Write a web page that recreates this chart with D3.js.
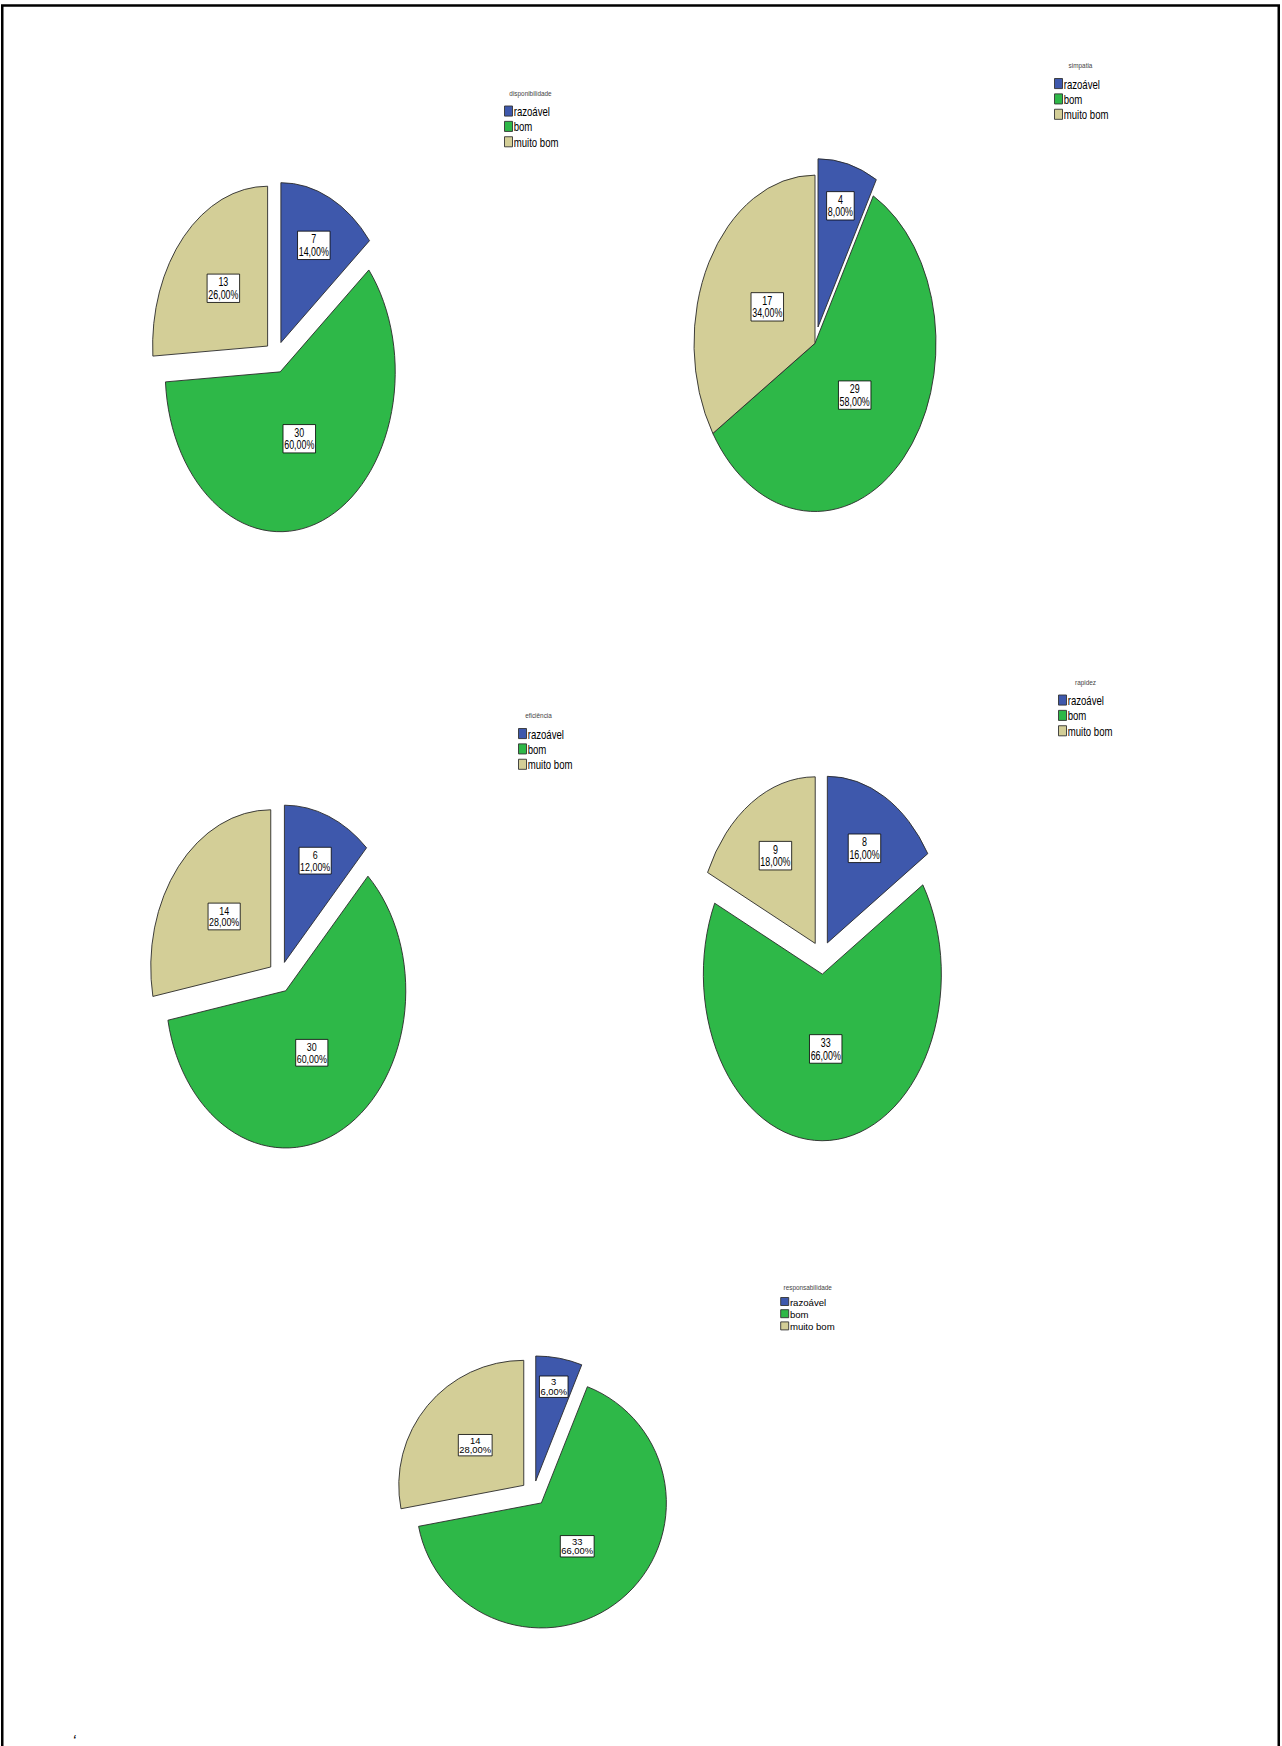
<!DOCTYPE html>
<html>
<head>
<meta charset="utf-8">
<script src="https://cdn.jsdelivr.net/npm/d3@7"></script>
<style>
  html, body { margin: 0; padding: 0; background: #ffffff; }
  svg { display: block; font-family: "Liberation Sans", Arial, sans-serif; }
</style>
</head>
<body>
<svg id="chart" width="1282" height="1746"></svg>
<script>
// Response categories shared by every question
const categories = ["razoável", "bom", "muito bom"];

// Counts per category for each evaluated attribute (n = 50)
const disponibilidade = [7, 30, 13];
const simpatia = [4, 29, 17];
const eficiencia = [6, 30, 14];
const rapidez = [8, 33, 9];
const responsabilidade = [3, 33, 14];

const titles = ["disponibilidade", "simpatia", "eficiência", "rapidez", "responsabilidade"];
const series = [disponibilidade, simpatia, eficiencia, rapidez, responsabilidade];

// Slice colours
const colors = ["#3e58ac", "#2eb848", "#d3ce97"];

// Placement of each pie panel: centre, radius, vertical stretch, exploded slices, legend spot
const layout = [
  { cx: 276,   cy: 357,    r: 115, k: 1.39, explode: [1, 1, 1], lx: 504.5,  ly: 106,    tdx: 26, lk: 1.26, fs: 8.9 },
  { cx: 815,   cy: 343.3,  r: 121, k: 1.39, explode: [1, 0, 0], lx: 1054.5, ly: 78.5,   tdx: 26, lk: 1.26, fs: 8.9 },
  { cx: 280,   cy: 977,    r: 120, k: 1.31, explode: [1, 1, 1], lx: 518.5,  ly: 728.5,  tdx: 20, lk: 1.26, fs: 8.9 },
  { cx: 821.6, cy: 957.5,  r: 119, k: 1.40, explode: [1, 1, 1], lx: 1058.5, ly: 695,    tdx: 27, lk: 1.26, fs: 8.9 },
  { cx: 533.4, cy: 1493.3, r: 125, k: 1.00, explode: [1, 1, 1], lx: 780.7,  ly: 1297.5, tdx: 27, lk: 1.0,  fs: 9.4 }
];

const locale = d3.formatLocale({ decimal: ",", thousands: ".", grouping: [3], currency: ["", ""] });
const fmt2 = locale.format(".2f");

const svg = d3.select("#chart");

// page frame
svg.append("rect")
  .attr("x", 2.25).attr("y", 5.5)
  .attr("width", 1276.5).attr("height", 1800)
  .attr("fill", "none").attr("stroke", "#000").attr("stroke-width", 2.5);

svg.append("text")
  .attr("x", 73).attr("y", 1743)
  .attr("font-size", 10).attr("font-weight", "bold")
  .attr("font-style", "italic")
  .text("‘");

const pie = d3.pie().sort(null).value(d => d);

series.forEach((values, pi) => {
  const L = layout[pi];
  const total = d3.sum(values);
  const arcs = pie(values);
  const arc = d3.arc().innerRadius(0).outerRadius(L.r);
  const explodeDist = 0.1 * L.r;

  const outer = svg.append("g").attr("transform", `translate(${L.cx},${L.cy})`);
  const g = outer.append("g").attr("transform", `scale(1,${L.k})`);

  const slices = g.selectAll("g.slice")
    .data(arcs)
    .join("g")
    .attr("class", "slice")
    .attr("transform", (d, i) => {
      const mid = (d.startAngle + d.endAngle) / 2;
      const e = L.explode[i] ? explodeDist : 0;
      return `translate(${Math.sin(mid) * e},${-Math.cos(mid) * e})`;
    });

  slices.append("path")
    .attr("d", arc)
    .attr("fill", (d, i) => colors[i])
    .attr("stroke", "#2a2a2a")
    .attr("stroke-width", 0.9)
    .attr("stroke-linejoin", "round")
    .attr("vector-effect", "non-scaling-stroke");

  // count / percentage boxes: small slices push their box further out
  slices.each(function (d) {
    const share = d.value / total;
    const mid = (d.startAngle + d.endAngle) / 2;
    const rf = Math.max(0.45, 0.84 - 1.2 * share) * L.r;
    const x = Math.sin(mid) * rf;
    const y = -Math.cos(mid) * rf;
    const lab = d3.select(this).append("g").attr("transform", `translate(${x},${y})`);
    const box = lab.append("rect")
      .attr("fill", "#fff")
      .attr("stroke", "#000")
      .attr("stroke-width", 0.8)
      .attr("vector-effect", "non-scaling-stroke");
    const lh = L.fs * 1.0;
    const t = lab.append("text")
      .attr("text-anchor", "middle")
      .attr("font-size", L.fs)
      .attr("fill", "#000");
    t.append("tspan").attr("x", 0).attr("y", -0.15 * lh).text(d.value);
    t.append("tspan").attr("x", 0).attr("y", 0.85 * lh).text(fmt2(share * 100) + "%");
    const w = t.node().getBBox().width + 2;
    const h = 2 * lh + 2.6;
    box.attr("x", -w / 2).attr("y", -h / 2).attr("width", w).attr("height", h);
  });

  // legend
  const lg = svg.append("g").attr("transform", `translate(${L.lx},${L.ly}) scale(1,${L.lk})`);
  lg.append("text")
    .attr("x", L.tdx).attr("y", -8)
    .attr("text-anchor", "middle")
    .attr("font-size", 6.4)
    .attr("fill", "#444")
    .text(titles[pi]);
  const pitch = 12.2;
  const items = lg.selectAll("g.item")
    .data(categories)
    .join("g")
    .attr("class", "item")
    .attr("transform", (d, i) => `translate(0,${i * pitch})`);
  items.append("rect")
    .attr("width", 8).attr("height", 8)
    .attr("fill", (d, i) => colors[i])
    .attr("stroke", "#333")
    .attr("stroke-width", 0.9)
    .attr("vector-effect", "non-scaling-stroke");
  items.append("text")
    .attr("x", 9.2).attr("y", 8)
    .attr("font-size", 9.6)
    .attr("fill", "#000")
    .text(d => d);
});
</script>
</body>
</html>
